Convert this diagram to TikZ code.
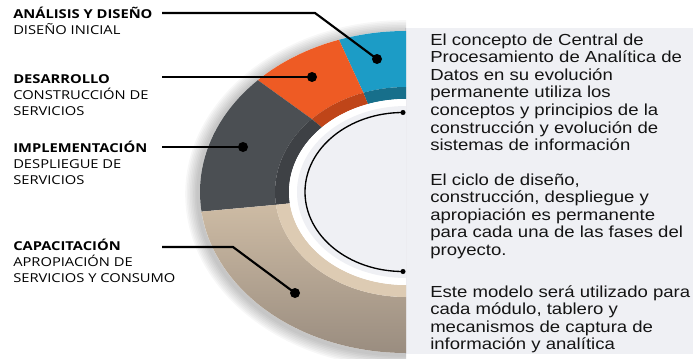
\documentclass[tikz,border=0pt]{standalone}
\usepackage{fontspec}
\usepackage{xcolor}
\usepackage{tikz}
\usetikzlibrary{calc}
\newfontfamily\lblfont[FakeStretch=1.2]{Open Sans}
\newfontfamily\txtfont[FakeStretch=1.16]{Liberation Sans}
\definecolor{segblue}{HTML}{1C9CC6}
\definecolor{segbluedk}{HTML}{176F8B}
\definecolor{segorange}{HTML}{EE5B24}
\definecolor{segorangedk}{HTML}{BF4519}
\definecolor{seggray}{HTML}{4B4F53}
\definecolor{seggraydk}{HTML}{3E4145}
\definecolor{segbeige}{HTML}{CDBBA4}
\definecolor{segbeigedk}{HTML}{998C7F}
\definecolor{segbeigelt}{HTML}{DDCBB3}
\definecolor{panelbg}{HTML}{EFF0F4}

\begin{document}
\begin{tikzpicture}[x=0.75pt,y=0.75pt,
  lbl/.style={anchor=base west,inner sep=0pt,align=left,font=\lblfont\fontsize{9.2}{12}\selectfont},
  txt/.style={anchor=base west,inner sep=0pt,align=left,font=\txtfont\fontsize{12}{13.2}\selectfont,text=black!92},
  dot/.style={circle,fill=black,inner sep=0pt,minimum size=7.5pt},
  enddot/.style={circle,fill=black,inner sep=0pt,minimum size=3.8pt},
  pointer/.style={line width=1.6pt,black},
]
\useasboundingbox (0,0) rectangle (693,358);
\def\ra{206}\def\rb{161}\def\ma{131}\def\mb{105}\def\ia{117}\def\ib{93}
\coordinate (C) at (406,166);
% one piece of the ring: colour, start angle, end angle, outer and inner radii
\newcommand\ringpiece[7]{%
  \path[#1] ($(C)+(#2:#4 and #5)$) arc[start angle=#2,end angle=#3,x radius=#4,y radius=#5]
    -- ($(C)+(#3:#6 and #7)$) arc[start angle=#3,end angle=#2,x radius=#6,y radius=#7] -- cycle;}
% right panel
\fill[panelbg] (405,4) rectangle (693,330);
% ring
\begin{scope}
\clip (0,0) rectangle (406,358);
\foreach \k in {1,...,8}
  \fill[black,opacity=0.03] ($(C)+(-2,-2)$) ellipse[x radius=\ra+\k*1.6,y radius=\rb+\k*1.6];
\fill[white] (C) ellipse[x radius=\ra,y radius=\rb];
\ringpiece{fill=segblue}{80}{109}{\ra}{\rb}{\ma}{\mb}
\ringpiece{fill=segbluedk}{80}{109}{\ma}{\mb}{\ia}{\ib}
\ringpiece{fill=segorange}{109}{136}{\ra}{\rb}{\ma}{\mb}
\ringpiece{fill=segorangedk}{109}{136}{\ma}{\mb}{\ia}{\ib}
\ringpiece{fill=seggray}{136}{187}{\ra}{\rb}{\ma}{\mb}
\ringpiece{fill=seggraydk}{136}{187}{\ma}{\mb}{\ia}{\ib}
\ringpiece{top color=segbeige,bottom color=segbeigedk}{187}{280}{\ra}{\rb}{\ma}{\mb}
\ringpiece{fill=segbeigelt}{187}{280}{\ma}{\mb}{\ia}{\ib}
\fill[white] (C) ellipse[x radius=\ia,y radius=\ib];
\fill[panelbg] (C) ellipse[x radius=\ia-8,y radius=\ib-7];
\end{scope}
% inner arc
\node[enddot] (arctop) at (403,245.5) {};
\node[enddot] (arcbot) at (403,86.5) {};
\draw[line width=1pt] (arctop.center) arc[start angle=90,end angle=270,x radius=98,y radius=79.5];
% segment dots
\node[dot] (dblue) at (377,299) {};
\node[dot] (dorange) at (312,281) {};
\node[dot] (dgray) at (243,211) {};
\node[dot] (dbeige) at (295,65) {};
% pointers
\coordinate (sblue) at (162,345);   \coordinate (kblue) at (315,345);
\coordinate (sorange) at (162,281);
\coordinate (sgray) at (162,211);
\coordinate (sbeige) at (162,111);  \coordinate (kbeige) at (233,111);
\draw[pointer] (sblue) -- (kblue) -- (dblue.center);
\draw[pointer] (sorange) -- (dorange.center);
\draw[pointer] (sgray) -- (dgray.center);
\draw[pointer] (sbeige) -- (kbeige) -- (dbeige.center);
% left labels (placed at the baseline of their last line)
\node[lbl] (lanal) at (13,324) {\textbf{ANÁLISIS Y DISEÑO}\\DISEÑO INICIAL};
\node[lbl] (ldesa) at (13,243) {\textbf{DESARROLLO}\\CONSTRUCCIÓN DE\\SERVICIOS};
\node[lbl] (limpl) at (13,174) {\textbf{IMPLEMENTACIÓN}\\DESPLIEGUE DE\\SERVICIOS};
\node[lbl] (lcapa) at (13,76) {\textbf{CAPACITACIÓN}\\APROPIACIÓN DE\\SERVICIOS Y CONSUMO};
% right text
\node[txt] (tone) at (430,207.4) {El concepto de Central de\\Procesamiento de Analítica de\\Datos en su evolución\\permanente utiliza los\\conceptos y principios de la\\construcción y evolución de\\sistemas de información};
\node[txt] (ttwo) at (430,102.6) {El ciclo de diseño,\\construcción, despliegue y\\apropiación es permanente\\para cada una de las fases del\\proyecto.};
\node[txt] (tthree) at (430,8.2) {Este modelo será utilizado para\\cada módulo, tablero y\\mecanismos de captura de\\información y analítica};
\end{tikzpicture}
\end{document}
